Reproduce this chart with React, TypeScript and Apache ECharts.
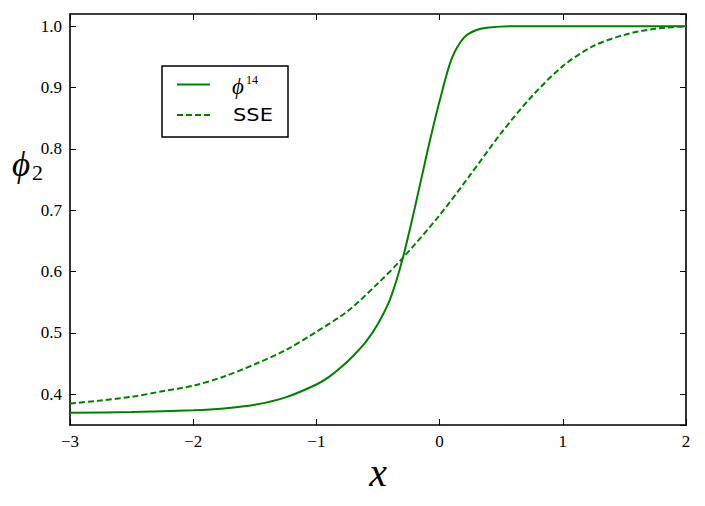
import React, { useEffect, useRef } from "react";
import * as echarts from "echarts";

const phiX = [-3, -2.5, -2, -1.75, -1.5, -1.25, -1.0, -0.9, -0.8, -0.7, -0.6, -0.5, -0.4, -0.3, -0.2, -0.1, 0, 0.1, 0.2, 0.3, 0.4, 0.6, 1.0, 1.5, 2.0];
const phiY = [0.37, 0.371, 0.374, 0.377, 0.383, 0.395, 0.416, 0.428, 0.444, 0.463, 0.485, 0.515, 0.556, 0.621, 0.705, 0.795, 0.878, 0.948, 0.982, 0.994, 0.998, 1.0, 1.0, 1.0, 1.0];

const sseX = [-3, -2.75, -2.5, -2.25, -2, -1.75, -1.5, -1.25, -1.0, -0.75, -0.5, -0.3, 0, 0.25, 0.5, 0.75, 1.0, 1.25, 1.5, 1.75, 2.0];
const sseY = [0.385, 0.39, 0.396, 0.405, 0.414, 0.429, 0.449, 0.472, 0.502, 0.535, 0.581, 0.622, 0.692, 0.758, 0.826, 0.886, 0.935, 0.968, 0.986, 0.996, 1.0];

const xTicks = [-3, -2, -1, 0, 1, 2];
const yRange = [0.35, 1.02];

const GREEN = "#008000";
const SERIF = "Liberation Serif";
const SANS = "DejaVu Sans";

export default function App() {
  const ref = useRef<HTMLDivElement>(null);
  useEffect(() => {
    if (!ref.current) return;
    const chart = echarts.init(ref.current, undefined, { renderer: "svg" });
    const axisLine = { show: true, onZero: false, lineStyle: { color: "#000", width: 1.6 } };
    const tick = { show: true, inside: true, length: 6, lineStyle: { color: "#000", width: 1 } };
    chart.setOption({
      animation: false,
      backgroundColor: "#fff",
      grid: { left: 70, right: 19, top: 14, bottom: 81 },
      xAxis: [
        {
          type: "value",
          min: xTicks[0],
          max: xTicks[xTicks.length - 1],
          interval: 1,
          position: "bottom",
          axisLine,
          axisTick: tick,
          splitLine: { show: false },
          axisLabel: {
            margin: 8,
            color: "#000",
            fontFamily: SERIF,
            fontSize: 17,
            formatter: (v: number) => (v < 0 ? "\u2212" + Math.abs(v) : String(v)),
          },
        },
        {
          type: "value",
          min: xTicks[0],
          max: xTicks[xTicks.length - 1],
          interval: 1,
          position: "top",
          axisLine,
          axisTick: tick,
          splitLine: { show: false },
          axisLabel: { show: false },
        },
      ],
      yAxis: [
        {
          type: "value",
          min: yRange[0],
          max: yRange[1],
          position: "left",
          axisLine,
          axisTick: tick,
          splitLine: { show: false },
          axisLabel: {
            margin: 8,
            color: "#000",
            fontFamily: SERIF,
            fontSize: 17,
            showMinLabel: false,
            showMaxLabel: false,
            formatter: (v: number) => v.toFixed(1),
          },
        },
        {
          type: "value",
          min: yRange[0],
          max: yRange[1],
          position: "right",
          axisLine,
          axisTick: tick,
          splitLine: { show: false },
          axisLabel: { show: false },
        },
      ],
      graphic: [
        {
          type: "rect",
          z: 100,
          shape: { x: 162, y: 66, width: 126, height: 71 },
          style: { fill: "#fff", stroke: "#000", lineWidth: 1.5 },
        },
        {
          type: "line",
          z: 101,
          shape: { x1: 177, y1: 84.5, x2: 210, y2: 84.5 },
          style: { stroke: GREEN, lineWidth: 2 },
        },
        {
          type: "line",
          z: 101,
          shape: { x1: 177, y1: 115, x2: 210, y2: 115 },
          style: { stroke: GREEN, lineWidth: 2, lineDash: [6, 3] },
        },
        {
          type: "text",
          z: 101,
          x: 232,
          y: 86,
          style: {
            text: "\u03D5",
            fontFamily: SERIF,
            fontStyle: "italic",
            fontSize: 23,
            fill: "#000",
            verticalAlign: "middle",
          },
        },
        {
          type: "text",
          z: 101,
          x: 246,
          y: 80,
          style: { text: "14", fontFamily: SERIF, fontSize: 12, fill: "#000", verticalAlign: "middle" },
        },
        {
          type: "text",
          z: 101,
          x: 233,
          y: 115.3,
          scaleX: 1.2,
          style: { text: "SSE", fontFamily: SANS, fontSize: 17.5, fill: "#000", verticalAlign: "middle" },
        },
        {
          type: "text",
          x: 12,
          y: 164,
          style: {
            text: "\u03D5",
            fontFamily: SERIF,
            fontStyle: "italic",
            fontSize: 35,
            fill: "#000",
            verticalAlign: "middle",
          },
        },
        {
          type: "text",
          x: 32,
          y: 172,
          style: { text: "2", fontFamily: SERIF, fontSize: 22, fill: "#000", verticalAlign: "middle" },
        },
        {
          type: "text",
          x: 378,
          y: 472,
          style: {
            text: "x",
            fontFamily: SERIF,
            fontStyle: "italic",
            fontSize: 40,
            fill: "#000",
            align: "center",
            verticalAlign: "middle",
          },
        },
      ],
      series: [
        {
          name: "\u03D514",
          type: "line",
          xAxisIndex: 0,
          yAxisIndex: 0,
          data: phiX.map((x, i) => [x, phiY[i]]),
          showSymbol: false,
          symbol: "none",
          smooth: 0.3,
          lineStyle: { color: GREEN, width: 2 },
          itemStyle: { color: GREEN },
        },
        {
          name: "SSE",
          type: "line",
          xAxisIndex: 0,
          yAxisIndex: 0,
          data: sseX.map((x, i) => [x, sseY[i]]),
          showSymbol: false,
          symbol: "none",
          smooth: 0.3,
          lineStyle: { color: GREEN, width: 2, type: [6, 3] },
          itemStyle: { color: GREEN },
        },
      ],
    });
    return () => chart.dispose();
  }, []);
  return <div ref={ref} style={{ position: "absolute", left: 0, top: 0, width: 705, height: 506 }} />;
}
